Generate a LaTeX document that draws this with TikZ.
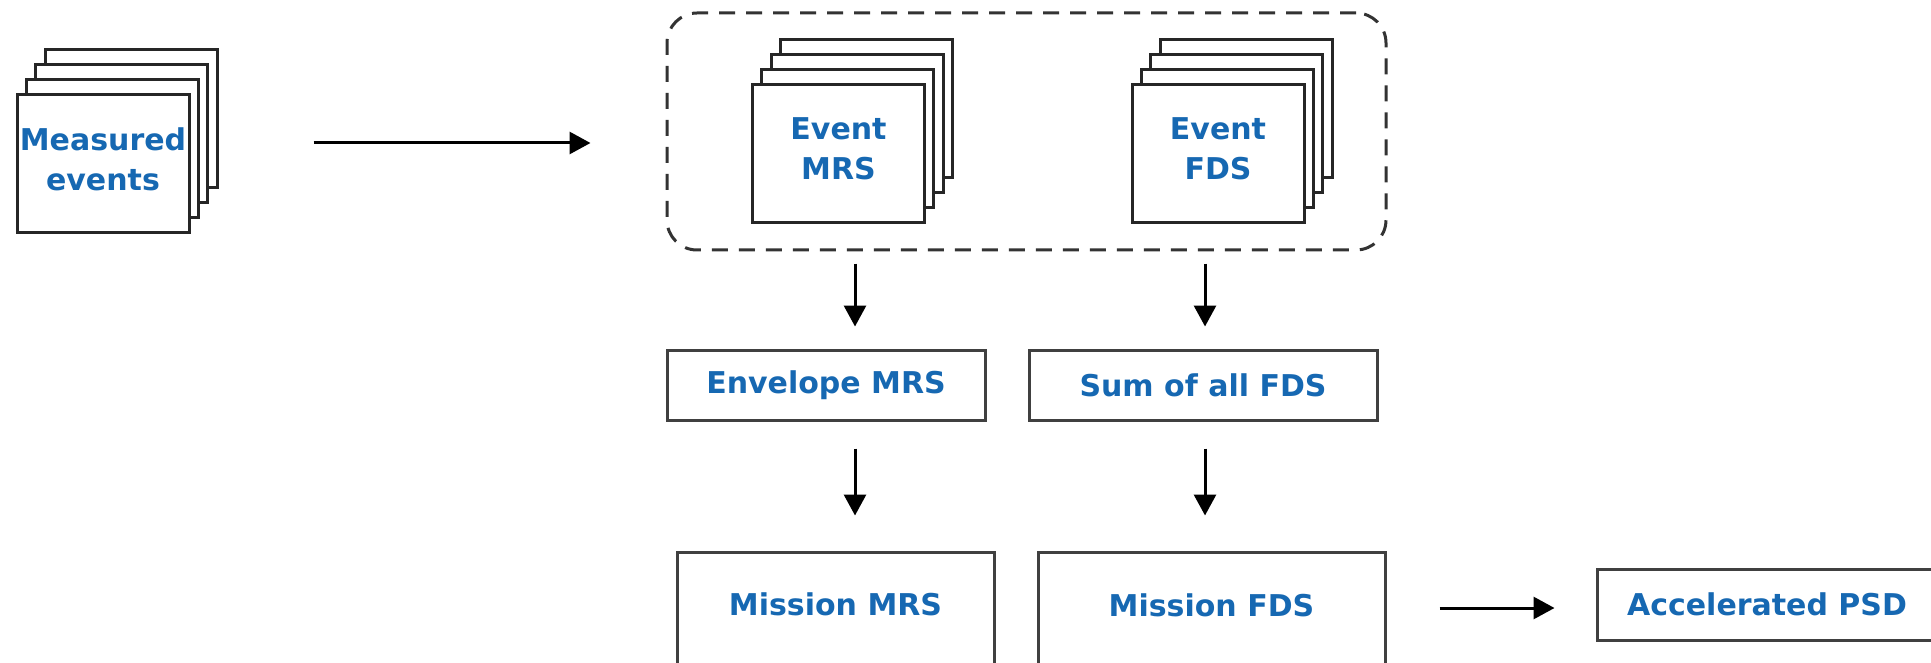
\documentclass[tikz,border=0pt]{standalone}
\usepackage{fontspec}
\setmainfont{DejaVu Sans}
\usetikzlibrary{arrows.meta}
\definecolor{txtblue}{RGB}{22,104,178}

\begin{document}
\begin{tikzpicture}[x=0.5pt,y=-0.5pt,
    sheet/.style={draw=black!85,line width=1.5pt,fill=white,minimum width=86pt,minimum height=69pt,inner sep=0pt,
        font=\bfseries\fontsize{15}{20}\selectfont,text=txtblue,align=center,text depth=5pt},
    stepbox/.style={draw=black!75,line width=1.5pt,fill=white,inner sep=0pt,
        font=\bfseries\fontsize{15}{20}\selectfont,text=txtblue,align=center},
    arr/.style={-{Triangle[length=10.5pt,width=11pt]},line width=1.5pt}]
            \useasboundingbox (0,0) rectangle (1931,663);
            \node[draw=black!80,line width=1.5pt,dash pattern=on 8pt off 5.5pt,rounded corners=15pt,
                minimum width=359.5pt,minimum height=118.5pt] (grp) at (1026.5,131.5) {};
            \foreach \k in {3,2,1}{
                \node[sheet] at (103+9.4*\k,164-15*\k) {};
                \node[sheet] at (838.5+9.4*\k,153.5-15*\k) {};
                \node[sheet] at (1218+9.4*\k,153.5-15*\k) {};
            }
            \node[sheet] (meas) at (103,164) {Measured\\events};
            \node[sheet] (evmrs) at (838.5,153.5) {Event\\MRS};
            \node[sheet] (evfds) at (1218,153.5) {Event\\FDS};
            \node[stepbox,minimum width=159pt,minimum height=35pt] (env) at (826,385) {Envelope MRS};
            \node[stepbox,minimum width=174pt,minimum height=35pt] (sum) at (1203,385) {Sum of all FDS};
            \node[stepbox,minimum width=158.5pt,minimum height=56pt,text depth=4pt] (mmrs) at (835.5,608) {Mission MRS};
            \node[stepbox,minimum width=173.5pt,minimum height=56pt,text depth=3pt] (mfds) at (1211.5,608) {Mission FDS};
            \node[stepbox,minimum width=170pt,minimum height=35.5pt] (psd) at (1767,604.5) {Accelerated PSD};
            \coordinate (colmrs) at (855,0);
            \coordinate (colfds) at (1205,0);
            \coordinate (rowin) at (0,143);
            \draw[arr,shorten <=61.5pt,shorten >=37.5pt] (meas.east |- rowin)--(grp.west |- rowin);
            \draw[arr,shorten <=6pt,shorten >=11pt] (grp.south -| colmrs)--(env.north -| colmrs);
            \draw[arr,shorten <=6pt,shorten >=11pt] (grp.south -| colfds)--(sum.north -| colfds);
            \draw[arr,shorten <=13.5pt,shorten >=17.5pt] (env.south -| colmrs)--(mmrs.north -| colmrs);
            \draw[arr,shorten <=13.5pt,shorten >=17.5pt] (sum.south -| colfds)--(mfds.north -| colfds);
            \draw[arr,shorten <=26.5pt,shorten >=20.5pt] (mfds.east)--(mfds.east -| psd.west);
        \end{tikzpicture}
\end{document}
